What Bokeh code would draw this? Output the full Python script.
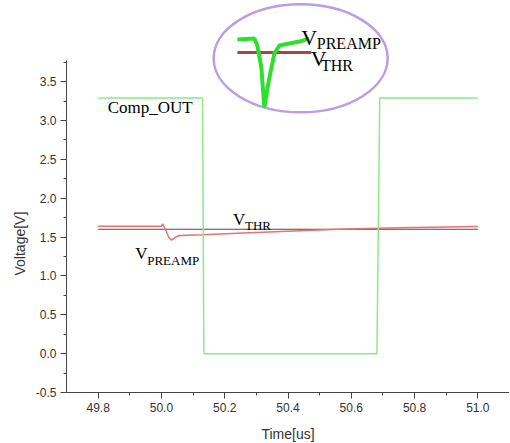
from bokeh.plotting import figure
from bokeh.models import Range1d, FixedTicker, PrintfTickFormatter, Label, Title
from bokeh.embed import file_html
from bokeh.resources import INLINE

# ---- data ----
comp_t = [49.8, 50.13, 50.134, 50.681, 50.69, 51.0]
comp_v = [3.29, 3.29, 0.0, 0.0, 3.29, 3.29]

thr_t = [49.8, 51.0]
thr_v = [1.6, 1.6]

preamp_t = [49.8, 50.0, 50.004, 50.012, 50.024, 50.032, 50.045, 50.057, 50.13, 50.28, 50.44, 50.56, 50.75, 51.0]
preamp_v = [1.64, 1.64, 1.67, 1.60, 1.49, 1.46, 1.50, 1.52, 1.53, 1.555, 1.58, 1.60, 1.62, 1.635]

# inset (magnified view, own units)
inset_t = [0, 17, 20, 24, 27, 32, 37, 42, 52, 62, 72]
inset_preamp = [68, 69, 62, 40, 0, 30, 54, 62, 64, 66, 69]
inset_thr_t = [0, 74]
inset_thr_v = [55, 55]

x_major = [49.8, 50.0, 50.2, 50.4, 50.6, 50.8, 51.0]
x_minor = [49.9, 50.1, 50.3, 50.5, 50.7, 50.9]
y_major = [-0.5, 0.0, 0.5, 1.0, 1.5, 2.0, 2.5, 3.0, 3.5]
y_minor = [-0.25, 0.25, 0.75, 1.25, 1.75, 2.25, 2.75, 3.25, 3.75]

# ---- figure ----
p = figure(frame_width=443, frame_height=392, title=None,
           x_range=Range1d(49.7, 51.1), y_range=Range1d(-0.5, 4.543),
           output_backend="svg", toolbar_location=None,
           min_border_left=66, min_border_right=0, min_border_top=0, min_border_bottom=0)
p.outline_line_color = None
p.grid.visible = False
p.background_fill_color = "white"

for ax in (p.xaxis, p.yaxis):
    ax.axis_line_color = "#444444"
    ax.major_tick_line_color = "#444444"
    ax.minor_tick_line_color = "#444444"
    ax.major_tick_out = 6
    ax.major_tick_in = 0
    ax.minor_tick_out = 3
    ax.minor_tick_in = 0
    ax.major_label_text_font = "Liberation Sans"
    ax.major_label_text_font_size = "12px"
    ax.major_label_text_color = "#333333"
    ax.major_label_standoff = 4
    ax.axis_label_text_font = "Liberation Sans"
    ax.axis_label_text_font_size = "14px"
    ax.axis_label_text_font_style = "normal"
    ax.axis_label_text_color = "#333333"
    ax.formatter = PrintfTickFormatter(format="%.1f")

p.xaxis.axis_label_standoff = 11
p.xaxis.ticker = FixedTicker(ticks=x_major, minor_ticks=x_minor)
p.yaxis.ticker = FixedTicker(ticks=y_major, minor_ticks=y_minor)
p.yaxis.bounds = (-0.5, 3.77)
p.xaxis.axis_label = "Time[us]"

# y-axis title, placed where the original has it
p.add_layout(Title(text="Voltage[V]", align="left", offset=117,
                   text_font="Liberation Sans", text_font_size="14px",
                   text_font_style="normal", text_color="#333333"), "left")

# main traces
p.line(thr_t, thr_v, line_color="#4a4a4a", line_width=1.2)
p.line(preamp_t, preamp_v, line_color="#e57373", line_width=1.5)
p.line(comp_t, comp_v, line_color="#8fe88f", line_width=1.5)

# inset
p.ellipse(x=[50.44], y=[3.80], width=174, height=108, width_units="screen", height_units="screen",
          fill_color=None, line_color="#b99de9", line_width=2.5)
IX0, IY0, KX, KY = 50.240, 3.166, 1 / 316.5, 1 / 77.75
p.line([IX0 + t * KX for t in inset_thr_t], [IY0 + v * KY for v in inset_thr_v],
       line_color="#a84646", line_width=3)
p.line([IX0 + t * KX for t in inset_t], [IY0 + v * KY for v in inset_preamp],
       line_color="#2ee02e", line_width=4)

serif = "Liberation Serif"
def lab(x, y, text, size):
    p.add_layout(Label(x=x, y=y, text=text, text_font=serif, text_font_size=size,
                       text_color="black", text_baseline="alphabetic", text_align="left"))

lab(49.83, 3.166, "Comp_OUT", "17px")
lab(50.226, 1.725, "V", "17px")
lab(50.264, 1.648, "THR", "13px")
lab(49.917, 1.288, "V", "17px")
lab(49.955, 1.198, "PREAMP", "13px")
lab(50.442, 4.066, "V", "22px")
lab(50.491, 3.989, "PREAMP", "16px")
lab(50.472, 3.796, "V", "22px")
lab(50.504, 3.706, "THR", "16px")

open("out.html", "w").write(file_html(p, INLINE))
